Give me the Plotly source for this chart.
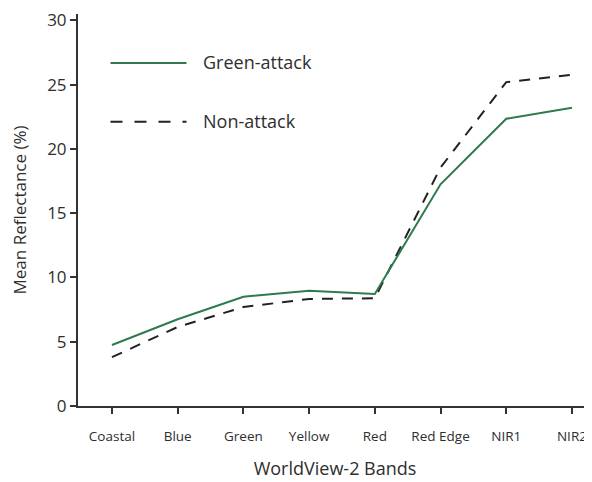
import plotly.graph_objects as go

bands = ["Coastal", "Blue", "Green", "Yellow", "Red", "Red Edge", "NIR1", "NIR2"]
green_attack = [4.75, 6.75, 8.5, 8.97, 8.72, 17.25, 22.35, 23.2]
non_attack = [3.8, 6.15, 7.7, 8.33, 8.38, 18.55, 25.2, 25.78]
y_ticks = [0, 5, 10, 15, 20, 25, 30]

FONT = "Open Sans"
TXT = "#2e2e2e"
GREEN = "#2f7a4e"
DARK = "#222222"

# page has an 8px body margin; plot area targets page px 78..592 x 14..406.5
PW, PH = 514.0, 392.5

def px(xp):
    return (xp - 78) / PW

def py(yp):
    return (406.5 - yp) / PH

fig = go.Figure()
fig.add_trace(go.Scatter(x=list(range(len(bands))), y=non_attack, mode="lines",
                         line=dict(color=DARK, width=2, dash="11px,9px"),
                         name="Non-attack", showlegend=False))
fig.add_trace(go.Scatter(x=list(range(len(bands))), y=green_attack, mode="lines",
                         line=dict(color=GREEN, width=2),
                         name="Green-attack", showlegend=False))

# manual legend
fig.add_shape(type="line", xref="paper", yref="paper",
              x0=px(110.5), x1=px(186.5), y0=py(63), y1=py(63),
              line=dict(color=GREEN, width=2))
fig.add_shape(type="line", xref="paper", yref="paper",
              x0=px(110.5), x1=px(186.5), y0=py(122), y1=py(122),
              line=dict(color=DARK, width=2, dash="12px,12px"))
fig.add_annotation(xref="paper", yref="paper", x=px(201), y=py(62),
                   text="Green-attack", showarrow=False, xanchor="left", yanchor="middle",
                   font=dict(family=FONT, size=18, color=TXT))
fig.add_annotation(xref="paper", yref="paper", x=px(201), y=py(121),
                   text="Non-attack", showarrow=False, xanchor="left", yanchor="middle",
                   font=dict(family=FONT, size=18, color=TXT))

fig.update_layout(
    width=584, height=474,
    margin=dict(l=70, r=0, t=6, b=75.5),
    plot_bgcolor="white", paper_bgcolor="white",
    font=dict(family=FONT, color=TXT),
    xaxis=dict(
        range=[-0.517, 7.305],
        tickmode="array", tickvals=list(range(len(bands))), ticktext=bands,
        showgrid=False, zeroline=False, automargin=False,
        showline=True, linecolor="#333333", linewidth=2,
        ticks="outside", ticklen=6, tickwidth=2, tickcolor="#333333",
        tickfont=dict(family=FONT, size=13.5, color=TXT),
        ticklabelstandoff=11,
        title=dict(text="WorldView-2 Bands", font=dict(family=FONT, size=18, color=TXT), standoff=18),
    ),
    yaxis=dict(
        range=[0, 30.5],
        tickmode="array", tickvals=y_ticks,
        showgrid=False, zeroline=False, automargin=False,
        showline=True, linecolor="#333333", linewidth=2,
        ticks="outside", ticklen=6, tickwidth=2, tickcolor="#333333",
        tickfont=dict(family=FONT, size=17, color=TXT),
        title=dict(text="Mean Reflectance (%)", font=dict(family=FONT, size=17, color=TXT), standoff=19),
    ),
)

fig.write_html("out.html")
